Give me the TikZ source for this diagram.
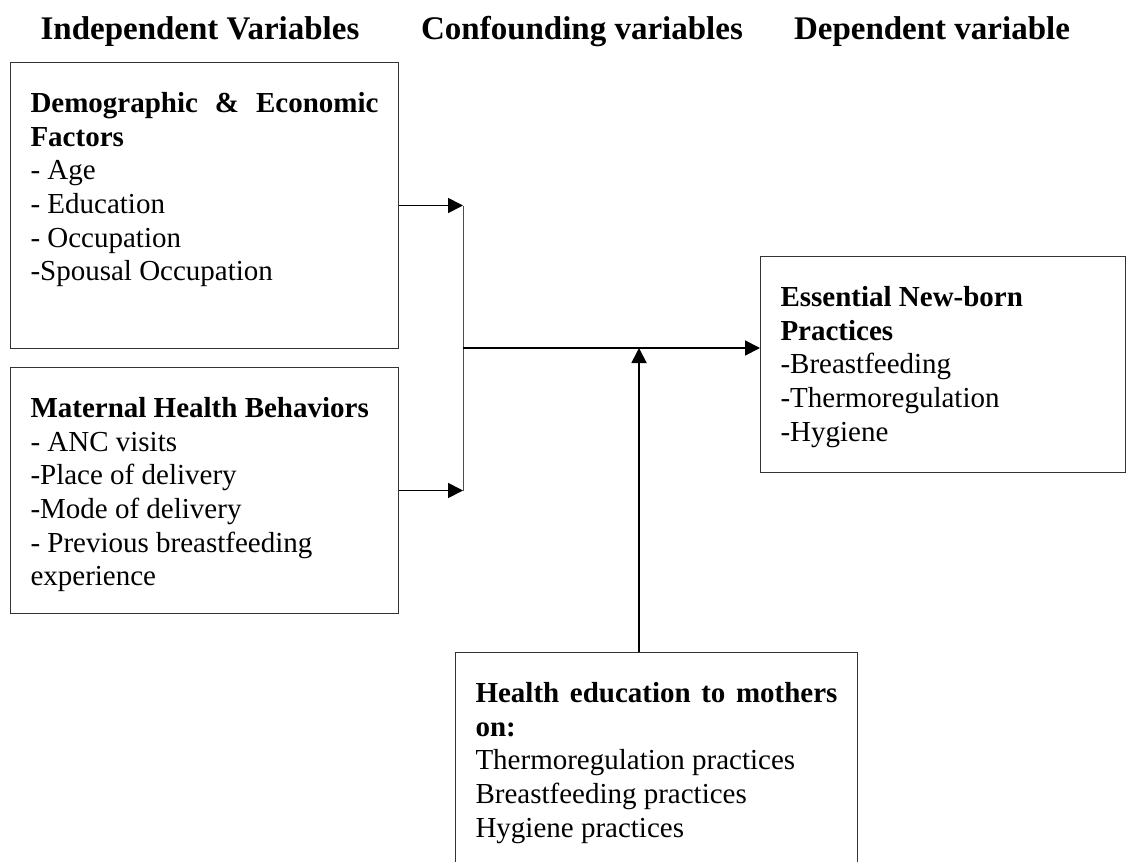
\documentclass[tikz,border=0pt]{standalone}
\usepackage{fontspec}
\setmainfont{Liberation Serif}
\usepackage{tikz}
\usetikzlibrary{arrows.meta,positioning}
\tikzset{
  >={Triangle[length=7.5pt,width=7.5pt]},
  var/.style  = {draw=black!80, line width=0.5pt, inner xsep=10pt, inner ysep=15pt, anchor=north west},
  head/.style = {anchor=base, font=\fontsize{16.5}{19}\selectfont\bfseries},
  feed/.style = {->, line width=0.9pt},
  link/.style = {draw=black!70, line width=0.5pt}
}
\newcommand{\boxtext}[3]{\parbox[c][#2][t]{#1}{\raggedright\fontsize{14.5}{16.8}\selectfont #3}}

\begin{document}
\begin{tikzpicture}[x=0.5pt, y=-0.5pt]
\useasboundingbox (0,0) rectangle (1127,861);

% column titles
\node[head] (tind) at (200,40) {Independent Variables};
\node[head] (tcon) at (582,40) {Confounding variables};
\node[head] (tdep) at (932,40) {Dependent variable};

\node[var] (fac) at (10,62) {\boxtext{174pt}{113pt}{%
  \makebox[\linewidth][s]{\textbf{Demographic \& Economic}}\\
  \textbf{Factors}\\
  - Age\\
  - Education\\
  - Occupation\\
  -Spousal Occupation}};
\node[var, below=9pt of fac] (mat) {\boxtext{174pt}{93pt}{%
  \textbf{Maternal Health Behaviors}\\
  - ANC visits\\
  -Place of delivery\\
  -Mode of delivery\\
  - Previous breastfeeding\\
  experience}};
\node[var] (ess) at (760,256) {\boxtext{162.5pt}{78pt}{%
  \textbf{Essential New-born}\\
  \textbf{Practices}\\
  -Breastfeeding\\
  -Thermoregulation\\
  -Hygiene}};
\node[var] (hed) at (455,652) {\boxtext{181pt}{84pt}{%
  \makebox[\linewidth][s]{\textbf{Health education to mothers}}\\
  \textbf{on:}\\
  Thermoregulation practices\\
  Breastfeeding practices\\
  Hygiene practices}};

\coordinate (join) at (463,348);
\coordinate (meet) at (639,348);

\draw[feed] (fac.east) -- (fac.east -| join);
\draw[feed] (mat.east) -- (mat.east -| join);
\draw[link] (fac.east -| join) -- (mat.east -| join);
\draw[feed] (join) -- (join -| ess.west);
\draw[feed] (meet |- hed.north) -- (meet);
\end{tikzpicture}
\end{document}
